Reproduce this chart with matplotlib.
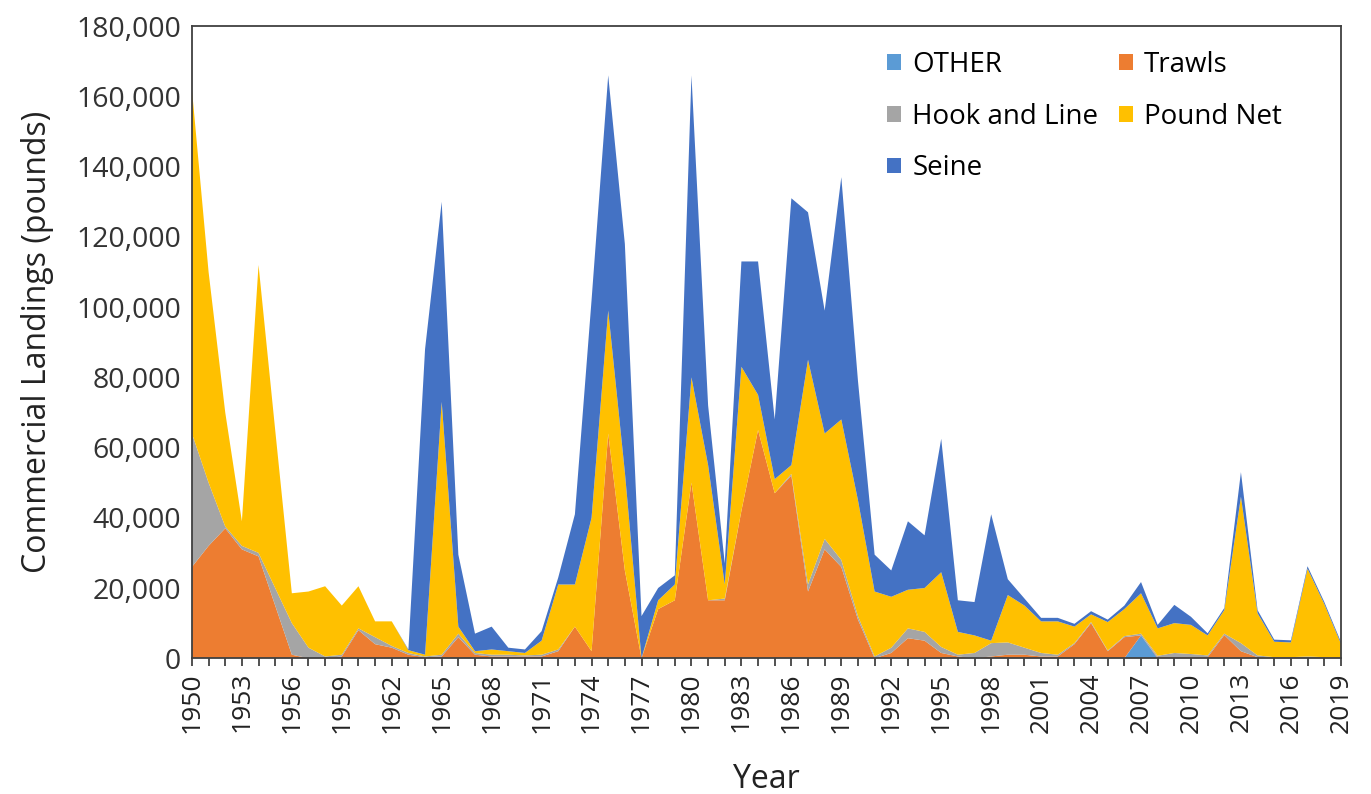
import matplotlib
matplotlib.use("Agg")
import matplotlib.pyplot as plt
from matplotlib.ticker import FuncFormatter, MultipleLocator
import numpy as np

plt.rcParams['font.family'] = ['Open Sans', 'DejaVu Sans']

years = list(range(1950, 2020))

other = [0] * 57 + [6500] + [0] * 12

trawls = [26000, 32000, 37000, 31000, 29000, 15000, 1000, 0, 0, 500,
          8000, 4000, 3000, 1000, 300, 500, 6000, 1000, 500, 500,
          500, 500, 2000, 9000, 2000, 64000, 25000, 0, 14000, 16500,
          50000, 16500, 16500, 42000, 65000, 47000, 52000, 19000, 31000, 26000,
          11000, 0, 1500, 5700, 5000, 1500, 500, 0, 500, 1000,
          1000, 500, 500, 4000, 10000, 2000, 6000, 0, 300, 300,
          300, 300, 6600, 2000, 300, 0, 0, 0, 0, 0]

hook_and_line = [38000, 18000, 500, 1000, 1000, 5000, 9000, 3000, 500, 500,
                 500, 2000, 500, 500, 200, 500, 1000, 500, 500, 500,
                 300, 500, 500, 0, 0, 0, 0, 0, 0, 0,
                 0, 0, 500, 0, 0, 0, 500, 2000, 3000, 2000,
                 1000, 500, 1500, 2800, 2500, 1700, 500, 1500, 3800, 3500,
                 2000, 1000, 500, 300, 300, 200, 300, 500, 400, 1200,
                 900, 500, 400, 2300, 500, 300, 300, 500, 300, 0]

pound_net = [98000, 60000, 32500, 7000, 82000, 45000, 8500, 16000, 20000, 14000,
             12000, 4500, 7000, 800, 500, 72000, 2000, 500, 1500, 1000,
             700, 4000, 18500, 12000, 38000, 35000, 28000, 0, 2500, 4500,
             30000, 38500, 4000, 41000, 10000, 4000, 2500, 64000, 30000, 40000,
             33000, 18500, 14500, 11000, 12500, 21300, 6500, 5000, 700, 13500,
             12000, 9000, 9500, 4700, 2200, 8100, 7700, 11500, 7800, 8500,
             8300, 5700, 6700, 41700, 12000, 4400, 4200, 25000, 15200, 4200]

seine = [0, 0, 0, 0, 0, 0, 0, 0, 0, 0,
         0, 0, 0, 200, 87000, 57000, 20500, 5000, 6500, 1000,
         1000, 2700, 2000, 20000, 62000, 67000, 65000, 12000, 3500, 2600,
         86000, 17000, 6000, 30000, 38000, 17000, 76000, 42000, 35000, 69000,
         34000, 10500, 7500, 19500, 15000, 38000, 9000, 9500, 36000, 4500,
         2000, 1000, 1000, 800, 900, 700, 1000, 3200, 1000, 5200,
         2300, 600, 600, 7000, 900, 600, 600, 700, 600, 500]

labels = ['OTHER', 'Trawls', 'Hook and Line', 'Pound Net', 'Seine']
colors = ['#5B9BD5', '#ED7D31', '#A5A5A5', '#FFC000', '#4472C4']

fig = plt.figure(figsize=(13.71, 7.94), dpi=100)
ax = fig.add_axes([0.140, 0.171, 0.838, 0.796])

polys = ax.stackplot(years, other, trawls, hook_and_line, pound_net, seine,
                     colors=colors, labels=labels)

ax.set_xlim(1950, 2019)
ax.set_ylim(0, 180000)
ax.yaxis.set_major_locator(MultipleLocator(20000))
ax.yaxis.set_major_formatter(FuncFormatter(lambda v, p: f'{int(v):,}'))
ax.set_xticks(years[::3])
ax.set_xticks(years, minor=True)
ax.tick_params(axis='x', which='both', direction='out', length=6, width=1.2,
               labelsize=19, labelrotation=90, color='#333333', pad=4,
               labelcolor='#222222')
ax.tick_params(axis='y', length=0, labelsize=20.5, pad=8, labelcolor='#333333')

for s in ax.spines.values():
    s.set_color('#404040')
    s.set_linewidth(1.3)

ax.set_ylabel('Commercial Landings (pounds)', fontsize=23, color='#222222', labelpad=16)
ax.set_xlabel('Year', fontsize=23, color='#222222', labelpad=22)

# legend filled column-wise so the rows read OTHER/Trawls, Hook and Line/Pound Net, Seine
order = [0, 2, 4, 1, 3]
leg = ax.legend([polys[i] for i in order], [labels[i] for i in order],
                ncol=2, loc='upper left', bbox_to_anchor=(0.637, 0.953),
                bbox_transform=fig.transFigure, borderpad=0,
                frameon=False, fontsize=20, handlelength=0.5, handleheight=0.5,
                handletextpad=0.4, columnspacing=0.75, labelspacing=0.85)

plt.savefig('out.png', dpi=100)
